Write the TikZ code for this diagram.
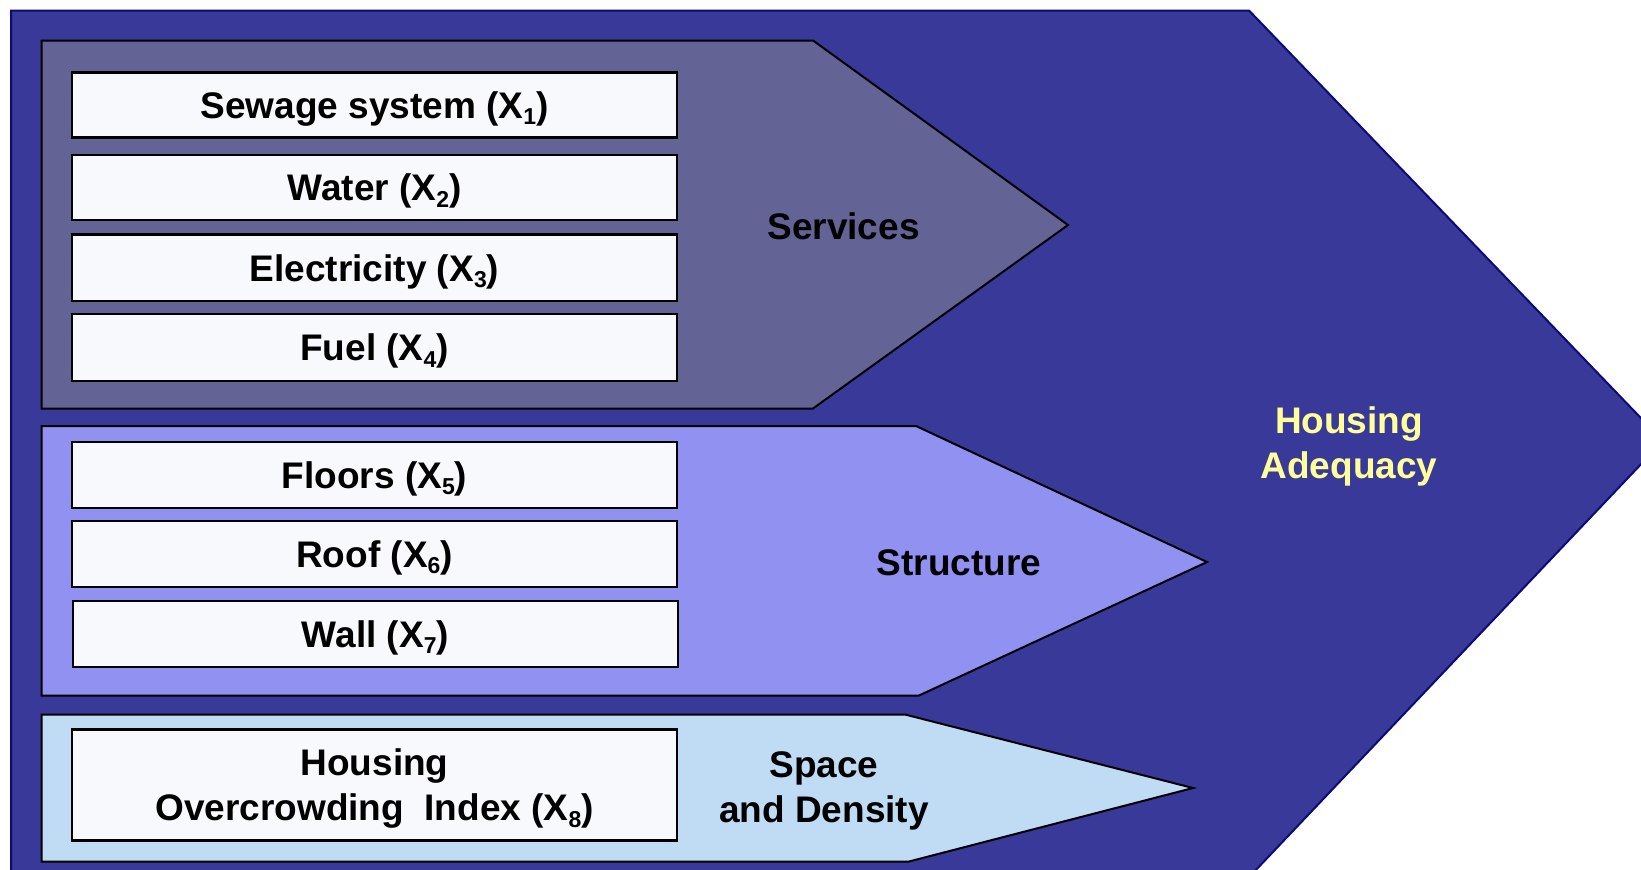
\documentclass[tikz,border=0pt]{standalone}
\usepackage{fontspec}
\setmainfont{Liberation Sans}
\definecolor{outerblue}{HTML}{393999}
\definecolor{navyline}{HTML}{0A0A78}
\definecolor{servfill}{HTML}{636396}
\definecolor{structfill}{HTML}{9191F2}
\definecolor{spacefill}{HTML}{C0DCF5}
\definecolor{boxwhite}{HTML}{F8F9FC}
\definecolor{hayellow}{HTML}{FFFF99}
\newcommand\sbs[1]{\raisebox{-6.5pt}{\fontsize{23}{23}\selectfont #1}}
\begin{document}
\begin{tikzpicture}[x=1pt,y=-1pt,
  font=\fontsize{37}{45}\selectfont\bfseries,
  pent/.style={draw=black,line width=2pt,line join=miter},
  itembox/.style={draw=black,line width=2.2pt,fill=boxwhite,minimum width=605.5pt,
    minimum height=65pt,inner sep=0pt,text height=26.6pt,text depth=0pt,anchor=center},
  lbl/.style={inner sep=0pt,text height=26.6pt,text depth=0pt,align=center},
  twoline/.style={text height=71.6pt,text depth=0pt,align=center}]
\useasboundingbox (0,0) rectangle (1641,870);
\fill[white] (0,0) rectangle (1641,870);
% outer arrow
\draw[fill=outerblue,draw=navyline,line width=2pt,line join=miter]
  (11,10.5) -- (1249,10.5) -- (1663,441) -- (1253,873) -- (11,873) -- cycle;
% pentagons
\draw[pent,fill=servfill] (41.5,40.5) -- (813,40.5) -- (1068,225) -- (813,408.5) -- (41.5,408.5) -- cycle;
\draw[pent,fill=structfill] (41.5,426) -- (916,426) -- (1207,562) -- (919,695.5) -- (41.5,695.5) -- cycle;
\draw[pent,fill=spacefill] (41.5,714.5) -- (905,714.5) -- (1193,788) -- (909,861.5) -- (41.5,861.5) -- cycle;
% item boxes
\node[itembox] (b1) at (374.5,105) {Sewage system (X\sbs{1})};
\node[itembox] (b2) at (374.5,187.5) {Water (X\sbs{2})};
\node[itembox,minimum height=66.5pt] (b3) at (374.5,267.75) {Electricity (X\sbs{3})};
\node[itembox,minimum height=67pt] (b4) at (374.5,347.5) {Fuel (X\sbs{4})};
\node[itembox,minimum height=66.5pt] (b5) at (374.5,475) {Floors (X\sbs{5})};
\node[itembox,minimum height=66pt] (b6) at (374.5,554) {Roof (X\sbs{6})};
\node[itembox,minimum height=66pt] (b7) at (375.5,634) {Wall (X\sbs{7})};
\node[itembox,minimum height=111pt,twoline] (b8) at (374.5,785)
  {Housing\\Overcrowding~~Index (X\sbs{8})};
% group labels
\node[lbl] (services) at (843.5,226) {Services};
\node[lbl] (structure) at (959,562) {Structure};
\node[lbl,twoline] (space) at (824,787) {Space\\and Density};
\node[lbl,twoline,text=hayellow] (adequacy) at (1349,443) {Housing\\Adequacy};
\end{tikzpicture}
\end{document}
